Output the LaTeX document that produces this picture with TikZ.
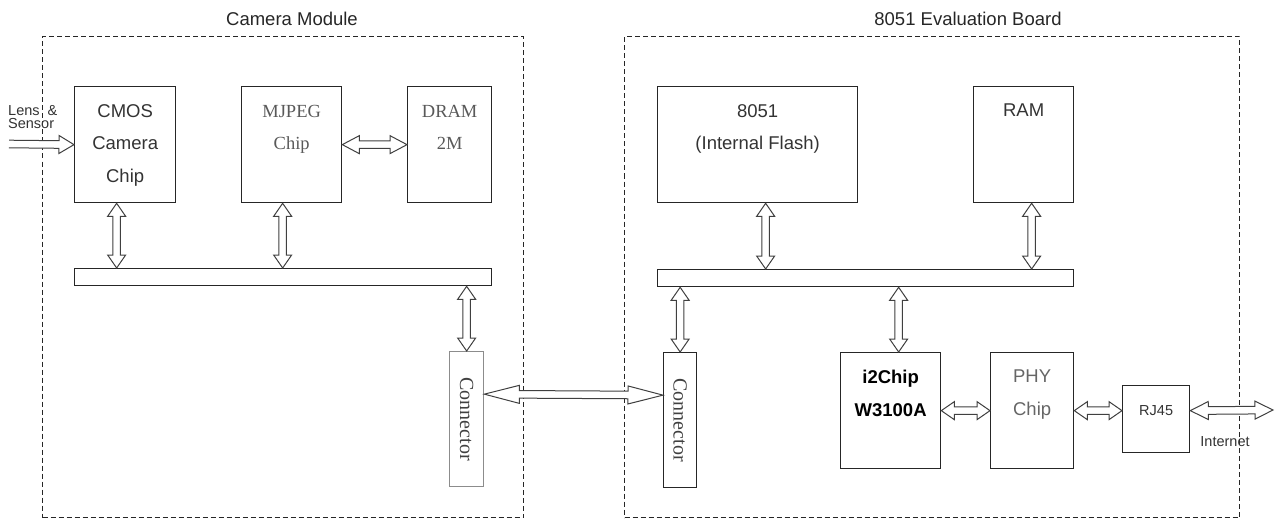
\documentclass[tikz,border=0pt]{standalone}
\usepackage{fontspec}
\setmainfont{Liberation Sans}
\newfontfamily\serifface{Liberation Serif}
\usetikzlibrary{calc}

\tikzset{
  grp/.style={draw=black!85, line width=1pt, dash pattern=on 5pt off 3pt,
    minimum width=#1, minimum height=481pt, anchor=north west, inner sep=0pt},
  blk/.style={draw=black!85, line width=1.3pt, minimum width=#1,
    minimum height=116pt, anchor=north west, inner sep=0pt},
  bus/.style={draw=black!85, line width=1.3pt, minimum width=#1,
    minimum height=17pt, anchor=north west, inner sep=0pt},
  conn/.style={draw=black!85, line width=1.3pt, minimum width=34pt,
    minimum height=135pt, anchor=north west, inner sep=0pt},
  blktxt/.style={anchor=north, inner sep=0pt, yshift=-18pt, align=center,
    text=black!80, font=\fontsize{18.5}{32.5}\selectfont},
  sertxt/.style={anchor=north, inner sep=0pt, yshift=-19pt, align=center,
    text=black!65, font=\serifface\fontsize{18.5}{32.5}\selectfont},
  conntxt/.style={rotate=-90, inner sep=0pt, text=black!75,
    font=\serifface\fontsize{20}{24}\selectfont},
  smalltxt/.style={inner sep=0pt, text=black!80,
    font=\fontsize{14.5}{12.5}\selectfont},
  title/.style={inner sep=0pt, text=black!85,
    font=\fontsize{18.5}{22}\selectfont},
  pipe/.style={draw=black!75, fill=white, line width=1pt, line join=miter},
}

% hollow bus arrow with two heads, #1 = head length
\newcommand{\dbarrow}[3][13pt]{%
  \path (#2) coordinate (ea) (#3) coordinate (eb);
  \filldraw[pipe] (ea)
    -- ($(ea)!#1!(eb)!9pt!90:(eb)$)
    -- ($(ea)!#1!(eb)!3.8pt!90:(eb)$)
    -- ($(eb)!#1!(ea)!3.8pt!-90:(ea)$)
    -- ($(eb)!#1!(ea)!9pt!-90:(ea)$)
    -- (eb)
    -- ($(eb)!#1!(ea)!9pt!90:(ea)$)
    -- ($(eb)!#1!(ea)!3.8pt!90:(ea)$)
    -- ($(ea)!#1!(eb)!3.8pt!-90:(eb)$)
    -- ($(ea)!#1!(eb)!9pt!-90:(eb)$)
    -- cycle;}

% same, one head only and an open tail
\newcommand{\inarrow}[3][15pt]{%
  \path (#2) coordinate (ea) (#3) coordinate (eb);
  \filldraw[pipe] ($(ea)!3.8pt!90:(eb)$)
    -- ($(eb)!#1!(ea)!3.8pt!-90:(ea)$)
    -- ($(eb)!#1!(ea)!9pt!-90:(ea)$)
    -- (eb)
    -- ($(eb)!#1!(ea)!9pt!90:(ea)$)
    -- ($(eb)!#1!(ea)!3.8pt!90:(ea)$)
    -- ($(ea)!3.8pt!-90:(eb)$);}

\begin{document}
\begin{tikzpicture}[x=1pt, y=-1pt]
\useasboundingbox (0,0) rectangle (1277,519);

 % the two boards
 \node[grp=481pt] (camMod) at (42,36) {};
 \node[title] (camTitle) at (292,19) {Camera Module};
 \node[grp=615pt] (evalBoard) at (624,36) {};
 \node[title] (evalTitle) at (968,19) {8051 Evaluation Board};

 % camera module
 \node[blk=101pt, label={[blktxt]north:{CMOS\\Camera\\Chip}}] (cmos) at (74,86) {};
 \node[blk=100pt, label={[sertxt]north:{MJPEG\\Chip}}] (mjpeg) at (241,86) {};
 \node[blk=84pt, label={[sertxt]north:{DRAM\\2M}}] (dram) at (407,86) {};
 \node[bus=417pt] (camBus) at (74,268) {};
 \node[conn, draw=black!45, label={[conntxt]center:Connector}] (connL) at (449,351) {};

 \node[smalltxt, anchor=west, align=left] (lensTxt) at (8,117) {Lens~~\&\\Sensor};
 \coordinate (lensIn) at (9,144);

 % evaluation board
 \node[blk=200pt, label={[blktxt]north:{8051\\(Internal Flash)}}] (mcu) at (657,86) {};
 \node[blk=100pt, label={[blktxt]north:RAM}] (ram) at (973,86) {};
 \node[bus=416pt] (evalBus) at (657,269) {};
 \node[conn, minimum width=33pt, label={[conntxt]center:Connector}] (connR) at (663,352) {};
 \node[blk=100pt, label={[blktxt, text=black, font=\bfseries\fontsize{18.5}{32.5}\selectfont]north:{i2Chip\\W3100A}}] (i2chip) at (840,352) {};
 \node[blk=83pt, label={[blktxt, text=black!60]north:{PHY\\Chip}}] (phy) at (990,352) {};
 \node[blk=67pt, minimum height=67pt, label={[smalltxt, anchor=north, yshift=-20pt]north:RJ45}] (rj45) at (1122,385) {};
 \node[smalltxt] (netTxt) at (1225,442) {Internet};
 \coordinate (netEnd) at (1273,410);

 % ports on the boxes
 \coordinate (cmosPort) at ($(cmos.south)+(-8.5,0)$);
 \coordinate (mjpegPort) at ($(mjpeg.south)+(-9,0)$);
 \coordinate (mcuPort) at ($(mcu.south)+(8,0)$);
 \coordinate (ramPort) at ($(ram.south)+(8,0)$);
 \coordinate (i2Port) at ($(i2chip.north)+(8,0)$);
 \coordinate (linkL) at ($(connL.east)+(0,-25)$);
 \coordinate (linkR) at ($(connR.west)+(0,-25)$);

 % buses
 \inarrow{lensIn}{cmos.west}
 \dbarrow{cmosPort}{cmosPort |- camBus.north}
 \dbarrow{mjpegPort}{mjpegPort |- camBus.north}
 \dbarrow[17pt]{mjpeg.east}{dram.west}
 \dbarrow{camBus.south -| connL.north}{connL.north}

 \dbarrow{mcuPort}{mcuPort |- evalBus.north}
 \dbarrow{ramPort}{ramPort |- evalBus.north}
 \dbarrow{evalBus.south -| connR.north}{connR.north}
 \dbarrow{evalBus.south -| i2Port}{i2Port}

 \dbarrow[35pt]{linkL}{linkR}
 \dbarrow{i2chip.east}{phy.west}
 \dbarrow{phy.east}{rj45.west |- phy.east}
 \dbarrow[18pt]{rj45.east |- phy.east}{netEnd}

\end{tikzpicture}
\end{document}
